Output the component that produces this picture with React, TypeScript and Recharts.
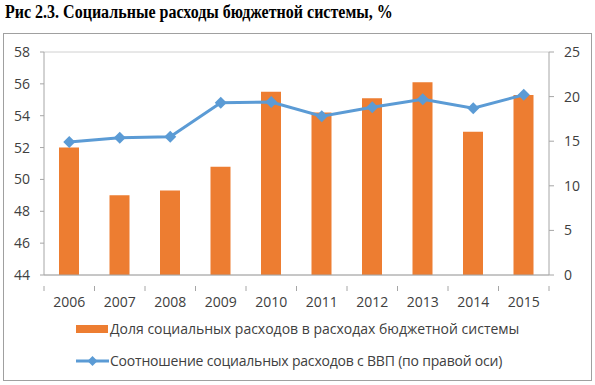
import React from "react"
import {
  ComposedChart,
  Bar,
  Line,
  XAxis,
  YAxis,
  CartesianGrid,
  Legend,
} from "recharts"

const years = ["2006", "2007", "2008", "2009", "2010", "2011", "2012", "2013", "2014", "2015"]
const shareOfBudget = [52.0, 49.0, 49.3, 50.8, 55.5, 54.2, 55.1, 56.1, 53.0, 55.3]
const shareOfGdp = [14.9, 15.4, 15.5, 19.3, 19.4, 17.8, 18.8, 19.7, 18.7, 20.2]
const leftTicks = [44, 46, 48, 50, 52, 54, 56, 58]
const rightTicks = [0, 5, 10, 15, 20, 25]

const barName = "Доля социальных расходов в расходах бюджетной системы"
const lineName = "Соотношение социальных расходов с ВВП (по правой оси)"

const data = years.map((year, i) => ({
  year,
  share: shareOfBudget[i],
  gdp: shareOfGdp[i],
}))

const ORANGE = "#ED7D31"
const BLUE = "#5B9BD5"
const AXIS = "#A6A6A6"
const TEXT = "#404040"
const FONT = "'Open Sans', sans-serif"

if (typeof document !== "undefined") {
  document.body.style.margin = "0"
}

function YearTick(props: any) {
  const { x, y, payload, index } = props
  const half = payload?.offset ?? 25.25
  return (
    <g>
      <line x1={x - half} x2={x - half} y1={y - 11} y2={y - 6} stroke={AXIS} />
      {index === years.length - 1 && (
        <line x1={x + half} x2={x + half} y1={y - 11} y2={y - 6} stroke={AXIS} />
      )}
      <text x={x} y={y} dy="0.71em" textAnchor="middle" fill={TEXT} fontSize={14} fontFamily={FONT}>
        {payload.value}
      </text>
    </g>
  )
}

function Diamond(props: any) {
  const { cx, cy } = props
  if (cx == null || cy == null) return null
  const r = 6
  return (
    <path
      d={`M${cx},${cy - r} L${cx + r},${cy} L${cx},${cy + r} L${cx - r},${cy} Z`}
      fill={BLUE}
    />
  )
}

function ChartLegend() {
  return (
    <div style={{ fontFamily: FONT, fontSize: 14, color: TEXT, lineHeight: "20px" }}>
      <div style={{ display: "flex", alignItems: "center", marginLeft: 76 }}>
        <span style={{ display: "inline-block", width: 32, height: 8, background: ORANGE, marginRight: 2 }} />
        <span>{barName}</span>
      </div>
      <div style={{ display: "flex", alignItems: "center", marginLeft: 76, marginTop: 12 }}>
        <svg width={34} height={12}>
          <line x1={0} x2={33} y1={6} y2={6} stroke={BLUE} strokeWidth={3} />
          <path d="M16.5,1 L21.5,6 L16.5,11 L11.5,6 Z" fill={BLUE} />
        </svg>
        <span style={{ letterSpacing: -0.2 }}>{lineName}</span>
      </div>
    </div>
  )
}

export default function App() {
  return (
    <div style={{ position: "relative", width: 595, height: 385, background: "#fff" }}>
      <div
        style={{
          position: "absolute",
          left: 5,
          top: 2,
          fontFamily: "'Liberation Serif', serif",
          fontWeight: "bold",
          fontSize: 18.5,
          color: "#000",
          whiteSpace: "nowrap",
          transform: "scaleX(0.865)",
          transformOrigin: "left top",
        }}
      >
        Рис 2.3. Социальные расходы бюджетной системы, %
      </div>
      <div
        style={{
          position: "absolute",
          left: 3,
          top: 33,
          width: 587,
          height: 346,
          border: "1px solid #A0A0A0",
        }}
      />
      <ComposedChart
        width={595}
        height={385}
        data={data}
        margin={{ top: 52, right: 0, bottom: 0, left: 0 }}
        style={{ position: "absolute", left: 0, top: 0 }}
      >
        <CartesianGrid vertical={false} stroke="#D0D0D0" />
        <XAxis
          dataKey="year"
          height={110}
          axisLine={{ stroke: AXIS }}
          tickLine={false}
          tick={<YearTick />}
          tickMargin={16}
          interval={0}
        />
        <YAxis
          yAxisId="left"
          orientation="left"
          width={44}
          domain={[44, 58]}
          ticks={leftTicks}
          interval={0}
          axisLine={{ stroke: AXIS }}
          tickLine={{ stroke: AXIS }}
          tickSize={4}
          tickMargin={10}
          tick={{ fill: TEXT, fontSize: 14, fontFamily: FONT }}
        />
        <YAxis
          yAxisId="right"
          orientation="right"
          width={46}
          domain={[0, 25]}
          ticks={rightTicks}
          interval={0}
          axisLine={{ stroke: AXIS }}
          tickLine={{ stroke: AXIS }}
          tickSize={5}
          tickMargin={10}
          tick={{ fill: TEXT, fontSize: 14, fontFamily: FONT }}
        />
        <Bar
          yAxisId="left"
          dataKey="share"
          name={barName}
          fill={ORANGE}
          barSize={20}
          isAnimationActive={false}
        />
        <Line
          yAxisId="right"
          dataKey="gdp"
          name={lineName}
          stroke={BLUE}
          strokeWidth={3}
          dot={<Diamond />}
          activeDot={false}
          isAnimationActive={false}
        />
        <Legend
          layout="horizontal"
          verticalAlign="middle"
          align="center"
          wrapperStyle={{ top: 319, left: 0, width: 595 }}
          content={<ChartLegend />}
        />
      </ComposedChart>
    </div>
  )
}
